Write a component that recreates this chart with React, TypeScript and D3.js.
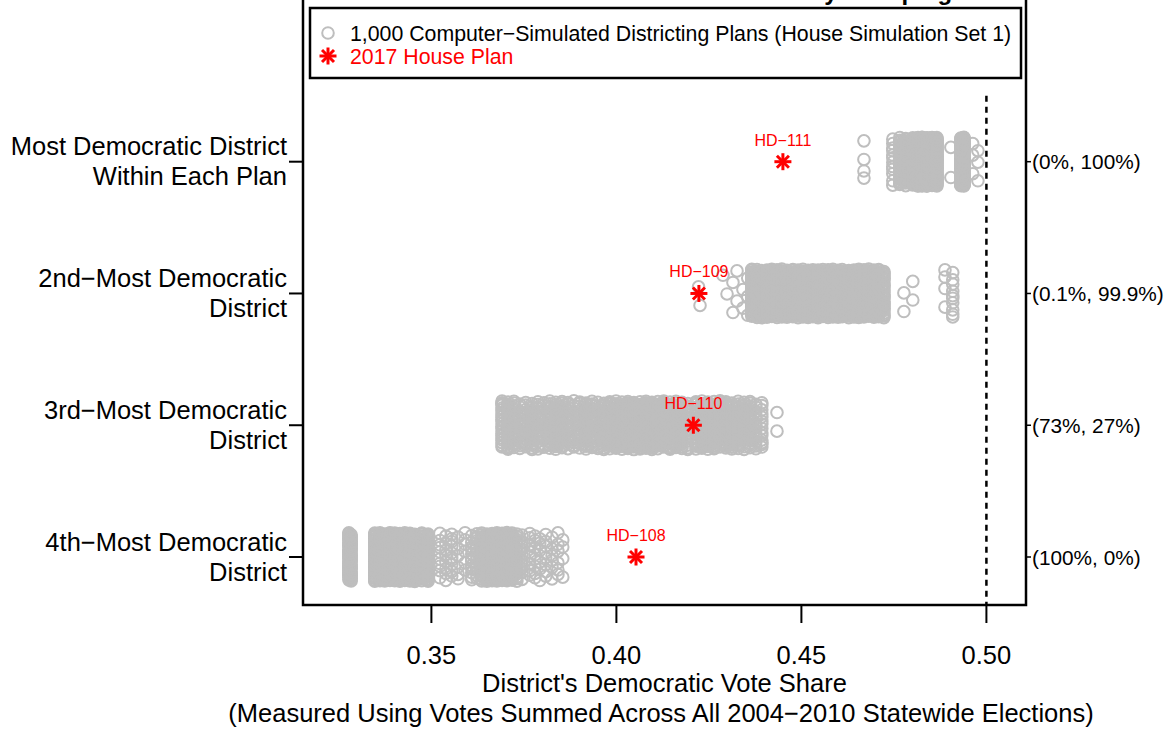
import * as d3 from "d3";

// row labels, top to bottom
const rowLabels = [
  ["Most Democratic District", "Within Each Plan"],
  ["2nd\u2212Most Democratic", "District"],
  ["3rd\u2212Most Democratic", "District"],
  ["4th\u2212Most Democratic", "District"],
];
const rowPercents = ["(0%, 100%)", "(0.1%, 99.9%)", "(73%, 27%)", "(100%, 0%)"];

// 2017 House Plan districts
const planDistricts = ["HD\u2212111", "HD\u2212109", "HD\u2212110", "HD\u2212108"];
const planShares = [0.445, 0.4223, 0.4208, 0.4053];

// simulated plans: distinct vote shares and how many plans sit at each
const mostDemValues = [0.4669, 0.4747, 0.4766, 0.4782, 0.4801, 0.4815, 0.4826, 0.4839, 0.4853, 0.4866, 0.4904, 0.4931, 0.4939, 0.4963, 0.4977];
const mostDemCounts = [4, 12, 25, 30, 40, 120, 180, 180, 130, 70, 2, 60, 141, 3, 3];

const secondValues = [
  0.4222, 0.4226, 0.4288, 0.4299, 0.4315, 0.4326, 0.4342, 0.4355,
  0.4366, 0.438, 0.4393, 0.4407, 0.442, 0.4434, 0.4447, 0.4461, 0.4477, 0.4491,
  0.4504, 0.4518, 0.4531, 0.4545, 0.4558, 0.4572, 0.4585, 0.4599, 0.461, 0.4628,
  0.4642, 0.4655, 0.4669, 0.4682, 0.4696, 0.4709, 0.4723,
  0.4777, 0.4801, 0.4888, 0.4909,
];
const secondCounts = [
  1, 1, 1, 1, 2, 2, 2, 3,
  34, 36, 38, 36, 38, 36, 34, 32, 34, 36,
  38, 40, 38, 40, 38, 38, 36, 34, 30, 34,
  38, 38, 36, 34, 32, 30, 28,
  2, 2, 4, 10,
];

const thirdValues = [
  0.3691, 0.3707, 0.3723, 0.3739, 0.3755, 0.3772, 0.3788, 0.3804, 0.382, 0.3836,
  0.3853, 0.3869, 0.3885, 0.3901, 0.3918, 0.3934, 0.395, 0.3966, 0.3982, 0.3999,
  0.4015, 0.4031, 0.4047, 0.4064, 0.408, 0.4096, 0.4112, 0.4128, 0.4145, 0.4161,
  0.4177, 0.4193,
  0.4215, 0.4231, 0.4247, 0.4264, 0.428, 0.4296, 0.4312, 0.4329, 0.4345, 0.4361,
  0.4377, 0.4393, 0.4434,
];
const thirdCounts = [
  22, 30, 20, 14, 16, 20, 18, 14, 20, 24,
  22, 18, 14, 18, 22, 20, 16, 24, 26, 28,
  26, 28, 32, 28, 34, 28, 26, 28, 26, 24,
  24, 20,
  26, 28, 26, 26, 24, 26, 24, 22, 18, 20,
  14, 14, 2,
];

const fourthValues = [
  0.3277, 0.3283,
  0.3347, 0.3361, 0.3374, 0.3388, 0.3401, 0.3415, 0.3428, 0.3442, 0.3455,
  0.3474, 0.3491,
  0.3523, 0.3539, 0.3555, 0.3572, 0.3591,
  0.3609, 0.3623, 0.3636, 0.365, 0.3664, 0.3677, 0.3691, 0.3704, 0.3718, 0.3731, 0.3745,
  0.3766, 0.378, 0.3793, 0.3809, 0.3826, 0.3842, 0.3855,
];
const fourthCounts = [
  30, 30,
  44, 50, 50, 48, 50, 48, 48, 46, 46,
  45, 45,
  10, 8, 10, 6, 6,
  12, 14, 30, 40, 44, 44, 44, 40, 36, 20, 10,
  8, 8, 6, 8, 6, 6, 4,
];

const rowValues = [mostDemValues, secondValues, thirdValues, fourthValues];
const rowCounts = [mostDemCounts, secondCounts, thirdCounts, fourthCounts];

const xTicks = [0.35, 0.4, 0.45, 0.5];

const FONT = "'Liberation Sans', Arial, Helvetica, sans-serif";
const GRAY = "#bebebe";
const RED = "#ff0000";

function Star({ cx, cy, r }: { cx: number; cy: number; r: number }) {
  const d = r * Math.SQRT1_2;
  return (
    <g stroke={RED} strokeWidth={3} strokeLinecap="butt">
      <line x1={cx - r} y1={cy} x2={cx + r} y2={cy} />
      <line x1={cx} y1={cy - r} x2={cx} y2={cy + r} />
      <line x1={cx - d} y1={cy - d} x2={cx + d} y2={cy + d} />
      <line x1={cx - d} y1={cy + d} x2={cx + d} y2={cy - d} />
    </g>
  );
}

export default function App() {
  const width = 1174;
  const height = 731;
  const box = { left: 303, right: 1026, top: -3, bottom: 605 };

  const x = d3.scaleLinear().domain([0.3153, 0.5107]).range([box.left, box.right]);
  const y = d3.scaleLinear().domain([1, 4]).range([557, 161.7]);
  const rowY = (i: number) => y(4 - i);

  // vertical jitter of +-0.185 row units, spread evenly along each column
  const points: { cx: number; cy: number }[] = [];
  rowValues.forEach((vals, i) => {
    let k = i * 7;
    vals.forEach((v, j) => {
      for (let n = 0; n < rowCounts[i][j]; n++) {
        const u = ((k * 0.6180339887 + 0.31) % 1) * 2 - 1;
        points.push({ cx: x(v), cy: y(4 - i + u * 0.185) });
        k++;
      }
    });
  });

  return (
    <svg
      width={width}
      height={height}
      style={{ position: "absolute", left: 0, top: 0, background: "#fff" }}
      fontFamily={FONT}
    >
      <rect width={width} height={height} fill="#fff" />

      {/* title, mostly above the visible area */}
      <text x={664} y={0} textAnchor="middle" fontSize={24} fontWeight="bold">
        Most Democratic Districts: Wake County Grouping
      </text>

      {points.map((p, i) => (
        <circle key={i} cx={p.cx} cy={p.cy} r={5.8} fill="none" stroke={GRAY} strokeWidth={2} />
      ))}

      <line
        x1={x(0.5)}
        x2={x(0.5)}
        y1={y(4.5)}
        y2={box.bottom}
        stroke="#000"
        strokeWidth={2.5}
        strokeDasharray="6,5"
      />

      {planShares.map((v, i) => (
        <g key={i}>
          <Star cx={x(v)} cy={rowY(i)} r={8.5} />
          <text x={x(v)} y={rowY(i) - 16} textAnchor="middle" fontSize={16} fill={RED}>
            {planDistricts[i]}
          </text>
        </g>
      ))}

      {/* plot box */}
      <rect
        x={box.left}
        y={box.top}
        width={box.right - box.left}
        height={box.bottom - box.top}
        fill="none"
        stroke="#000"
        strokeWidth={2.5}
      />

      {/* legend */}
      <rect x={310} y={8} width={711} height={70} fill="#fff" stroke="#000" strokeWidth={2.5} />
      <circle cx={328} cy={33} r={5.8} fill="none" stroke={GRAY} strokeWidth={2} />
      <text x={350} y={40.5} fontSize={21.3}>
        1,000 Computer{"\u2212"}Simulated Districting Plans (House Simulation Set 1)
      </text>
      <Star cx={328} cy={56} r={8.5} />
      <text x={350} y={63.5} fontSize={21.3} fill={RED}>
        2017 House Plan
      </text>

      {/* left axis */}
      {rowLabels.map((lines, i) => (
        <g key={i}>
          <line x1={289} x2={box.left} y1={rowY(i)} y2={rowY(i)} stroke="#000" strokeWidth={2} />
          <text x={287} y={rowY(i) - 6.5} textAnchor="end" fontSize={25.5}>
            {lines[0]}
          </text>
          <text x={287} y={rowY(i) + 23.5} textAnchor="end" fontSize={25.5}>
            {lines[1]}
          </text>
        </g>
      ))}

      {/* right axis */}
      {rowPercents.map((t, i) => (
        <g key={i}>
          <line x1={box.right} x2={box.right + 5} y1={rowY(i)} y2={rowY(i)} stroke="#000" strokeWidth={1.5} />
          <text x={1032} y={rowY(i) + 7.5} fontSize={20.8}>
            {t}
          </text>
        </g>
      ))}

      {/* bottom axis */}
      {xTicks.map((t) => (
        <g key={t}>
          <line x1={x(t)} x2={x(t)} y1={box.bottom} y2={623} stroke="#000" strokeWidth={2} />
          <text x={x(t)} y={664} textAnchor="middle" fontSize={25.5}>
            {d3.format(".2f")(t)}
          </text>
        </g>
      ))}
      <text x={664.5} y={692} textAnchor="middle" fontSize={25.5}>
        District's Democratic Vote Share
      </text>
      <text x={661} y={722} textAnchor="middle" fontSize={25.5}>
        (Measured Using Votes Summed Across All 2004{"\u2212"}2010 Statewide Elections)
      </text>
    </svg>
  );
}
